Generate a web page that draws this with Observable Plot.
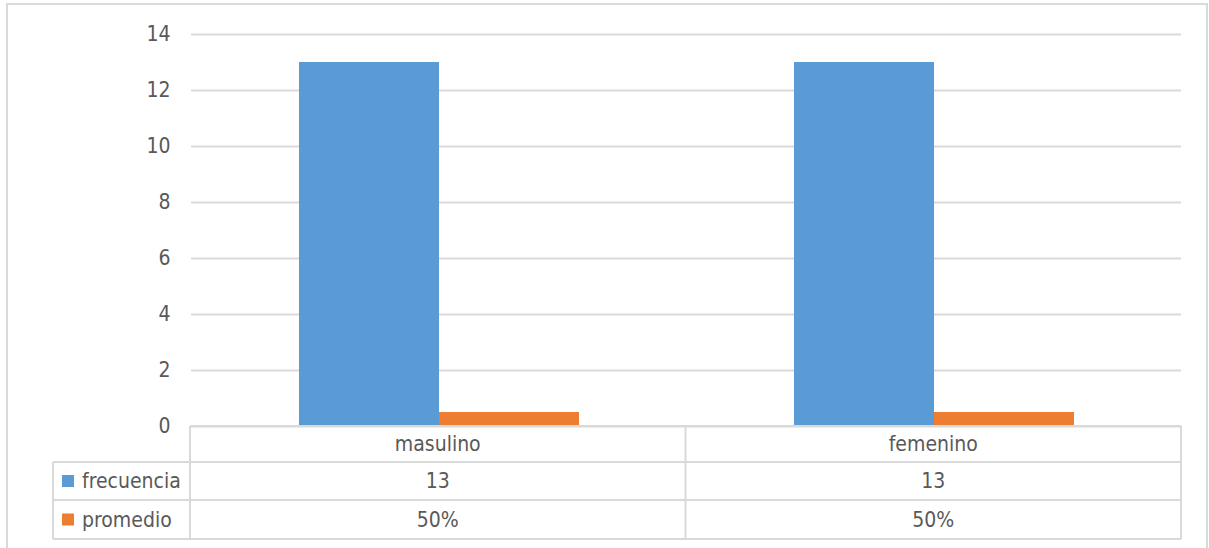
<!DOCTYPE html>
<html>
<head>
<meta charset="utf-8">
<script src="https://cdn.jsdelivr.net/npm/d3@7"></script>
<script src="https://cdn.jsdelivr.net/npm/@observablehq/plot@0.6"></script>
<style>
  html, body { margin: 0; padding: 0; background: #fff; }
  #chart { width: 1209px; height: 548px; overflow: hidden; }
</style>
</head>
<body>
<div id="chart"></div>
<script>
const categories = ["masulino", "femenino"];
const series = ["frecuencia", "promedio"];
const frecuencia = [13, 13];
const promedio = [0.5, 0.5];
const frecuenciaLabels = ["13", "13"];
const promedioLabels = ["50%", "50%"];
const yTicks = [0, 2, 4, 6, 8, 10, 12, 14];
const colors = ["#5B9BD5", "#ED7D31"];

const FONT = "'Liberation Sans Narrow', 'DejaVu Sans Condensed', 'Liberation Sans', sans-serif";
const TEXT = "#595959";
const LINE = "#d9d9d9";

const rows = [];
categories.forEach((c, i) => {
  rows.push({category: c, series: series[0], value: frecuencia[i]});
  rows.push({category: c, series: series[1], value: promedio[i]});
});

const plot = Plot.plot({
  width: 1209,
  height: 548,
  marginLeft: 190,
  marginRight: 28,
  marginTop: 34,
  marginBottom: 122,
  style: {fontFamily: FONT, fontSize: "21px", color: TEXT, background: "#fff", overflow: "visible"},
  fx: {domain: categories, padding: 0, axis: null, label: null},
  x: {domain: series, paddingInner: 0, paddingOuter: 0.76, axis: null, label: null},
  y: {domain: [0, 14], ticks: yTicks, tickSize: 0, tickPadding: 21, label: null, grid: false},
  color: {domain: series, range: colors},
  marks: [
    Plot.gridY(yTicks, {stroke: LINE, strokeOpacity: 1, strokeWidth: 2}),
    Plot.barY(rows, {fx: "category", x: "series", y: "value", fill: "series"})
  ]
});
document.getElementById("chart").appendChild(plot);

// Data table drawn from the plot's own scales
const svg = d3.select(plot);
const fxs = plot.scale("fx");
const ysc = plot.scale("y");
const fx = d3.scaleBand(fxs.domain, fxs.range).paddingInner(0).paddingOuter(0);
const y = d3.scaleLinear(ysc.domain, ysc.range);

const left = fxs.range[0], right = fxs.range[1];
const top0 = y(0);
const rowH = [36, 38, 39];
const rowTop = [top0, top0 + rowH[0], top0 + rowH[0] + rowH[1], top0 + rowH[0] + rowH[1] + rowH[2]];
const legendLeft = 53;

const g = svg.append("g").attr("stroke", LINE).attr("stroke-width", 2).attr("fill", "none");
g.append("line").attr("x1", left).attr("x2", right).attr("y1", rowTop[0]).attr("y2", rowTop[0]);
for (let r = 1; r < 4; r++) {
  g.append("line").attr("x1", legendLeft).attr("x2", right).attr("y1", rowTop[r]).attr("y2", rowTop[r]);
}
g.append("line").attr("x1", legendLeft).attr("x2", legendLeft).attr("y1", rowTop[1]).attr("y2", rowTop[3]);
const vx = [left, ...categories.map(c => fx(c) + fx.bandwidth())];
vx.forEach(x => g.append("line").attr("x1", x).attr("x2", x).attr("y1", rowTop[0]).attr("y2", rowTop[3]));

const t = svg.append("g").attr("fill", TEXT).attr("font-family", FONT).attr("font-size", 21).attr("text-anchor", "middle");
categories.forEach((c, i) => {
  const cx = fx(c) + fx.bandwidth() / 2;
  t.append("text").attr("x", cx).attr("y", (rowTop[0] + rowTop[1]) / 2).attr("dy", "0.35em").text(c);
  t.append("text").attr("x", cx).attr("y", (rowTop[1] + rowTop[2]) / 2).attr("dy", "0.35em").text(frecuenciaLabels[i]);
  t.append("text").attr("x", cx).attr("y", (rowTop[2] + rowTop[3]) / 2).attr("dy", "0.35em").text(promedioLabels[i]);
});
series.forEach((s, i) => {
  const cy = (rowTop[i + 1] + rowTop[i + 2]) / 2;
  svg.append("rect").attr("x", legendLeft + 9).attr("y", cy - 6).attr("width", 12).attr("height", 12).attr("fill", colors[i]);
  t.append("text").attr("x", legendLeft + 29).attr("y", cy).attr("dy", "0.35em").attr("text-anchor", "start").text(s);
});

svg.append("rect").attr("x", 7).attr("y", 4).attr("width", 1200).attr("height", 560)
  .attr("fill", "none").attr("stroke", LINE).attr("stroke-width", 2);
</script>
</body>
</html>
